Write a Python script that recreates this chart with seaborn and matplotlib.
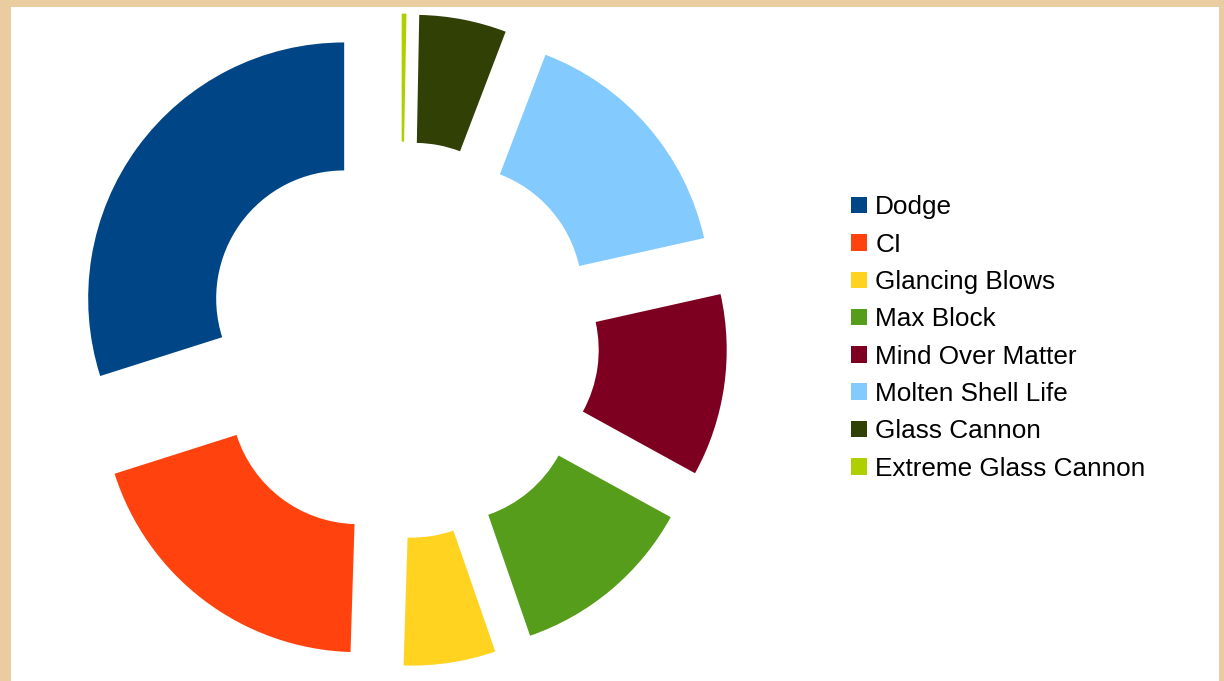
"""
Donut chart of defensive stat shares (exploded ring, legend on the right)
"""

import matplotlib.pyplot as plt
import matplotlib.patches as mpatches
import seaborn as sns

labels = ['Dodge', 'CI', 'Glancing Blows', 'Max Block', 'Mind Over Matter',
          'Molten Shell Life', 'Glass Cannon', 'Extreme Glass Cannon']
shares = [29.9, 19.6, 5.8, 11.7, 11.5, 15.7, 5.5, 0.3]
hex_colors = ['#004586', '#ff420e', '#ffd320', '#579d1c', '#7e0021',
              '#83caff', '#314004', '#aecf00']

sns.set_style('white')
plt.rcParams['font.family'] = ['Liberation Sans', 'DejaVu Sans']
palette = sns.color_palette(hex_colors)

W, H = 1224, 681
fig = plt.figure(figsize=(W / 100, H / 100), dpi=100)
fig.patch.set_facecolor('#e9cca0')

# white chart panel inside the parchment border
fig.patches.append(mpatches.Rectangle((11 / W, 0), (1219 - 11) / W, (H - 7) / H,
                                      transform=fig.transFigure, facecolor='white',
                                      edgecolor='none', zorder=-10))

ax = fig.add_axes([0, 0, 1, 1])
ax.set_zorder(1)
ax.patch.set_alpha(0)

cx, cy, R = 401, 340, 256  # pixel centre and radius of the ring
wedges, _ = ax.pie(shares, colors=palette, startangle=90, counterclock=True,
                   explode=[0.275] * len(shares), radius=1,
                   wedgeprops=dict(width=0.5, linewidth=0))
ax.set_xlim(-cx / R, (W - cx) / R)
ax.set_ylim(-(H - cy) / R, cy / R)
ax.set_aspect('auto')
ax.axis('off')

leg = ax.legend(wedges, labels, loc='center left',
                bbox_to_anchor=(851 / W, 1 - 338 / H), bbox_transform=fig.transFigure,
                frameon=False, fontsize=18.8, handlelength=0.6, handleheight=0.6,
                handletextpad=0.33, labelspacing=0.51, borderpad=0, borderaxespad=0)
for t in leg.get_texts():
    t.set_color('black')

plt.savefig('out.png', dpi=100, facecolor=fig.get_facecolor())
plt.close()
